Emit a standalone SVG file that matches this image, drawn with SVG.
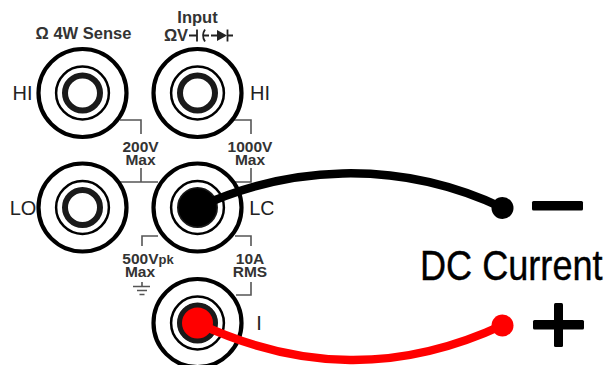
<svg xmlns="http://www.w3.org/2000/svg" width="605" height="365" viewBox="0 0 605 365">
<defs>
<clipPath id="panel"><rect x="0" y="0" width="273.500" height="365"/></clipPath>
<g id="jack"><circle r="44" class="ring" stroke-width="4.200"/><circle r="26.400" class="ring" stroke-width="2.500"/><circle r="17.500" fill="#fff" stroke="#1a1a1a" stroke-width="6"/></g>
</defs>
<style>
.ring{fill:#fff;stroke:#000}
.t{font-family:"Liberation Sans",Arial,sans-serif;font-weight:700;font-size:15.5px;fill:#333;text-anchor:middle}
.h{font-family:"Liberation Sans",Arial,sans-serif;font-size:20px;fill:#222;text-anchor:middle}
.lead{fill:none;stroke:#555;stroke-width:1.6}
.sym{fill:none;stroke:#222;stroke-width:1.8}
.wire{fill:none;stroke-width:8.500;stroke-linecap:round}
</style>
<g id="leads">
<path class="lead" d="M120 120H141V134M141 168V182M120 182H158"/>
<path class="lead" d="M233 120H251V134M251 168V182H235"/>
<path class="lead" d="M142 246V236H158M235 236H251V246M251 282V295H236"/>
<path class="lead" d="M142 282V286M133 286.500H150M137 290.500H147M139.500 294.500H144.500"/>
</g>
<g id="jack-hi-sense"><use href="#jack" x="82.500" y="93"/><text class="h" x="22.500" y="100">HI</text></g>
<g id="jack-hi-input"><use href="#jack" x="197.500" y="93"/><text class="h" x="260" y="100">HI</text></g>
<g id="jack-lo-sense"><use href="#jack" x="82.500" y="207.500"/><text class="h" x="23" y="215">LO</text></g>
<g id="jack-lo-input"><use href="#jack" x="197.500" y="207.500"/><circle cx="197.500" cy="207.500" r="19" fill="#000"/><text class="h" x="262" y="215" clip-path="url(#panel)">LC</text></g>
<g id="jack-current"><use href="#jack" x="197.500" y="323"/><circle cx="197.500" cy="323" r="20" fill="#1a1a1a"/><circle cx="197.500" cy="323" r="15.500" fill="#f00"/><text class="h" x="259" y="330">I</text></g>
<g id="labels">
<text class="t" x="83.500" y="39" style="font-size:16.500px">Ω 4W Sense</text>
<text class="t" x="197.500" y="23" style="font-size:16.500px">Input</text>
<text class="t" x="176" y="41" style="font-size:16.500px">ΩV</text>
<path class="sym" d="M189 35.500H197M197 29.500V41.500M205 29.500Q201 35.500 205 41.500M203 35.500H209M211 35.500H217M227.500 29.500V41.500M227.500 35.500H233"/>
<path d="M217 30L227 35.500L217 41Z" fill="#222"/>
<text class="t" x="140.500" y="152">200V<tspan x="140.500" dy="13">Max</tspan></text>
<text class="t" x="250" y="152" clip-path="url(#panel)">1000V<tspan x="250" dy="13">Max</tspan></text>
<text class="t" x="148" y="264">500V<tspan style="font-size:13px">pk</tspan><tspan x="140" dy="13">Max</tspan></text>
<text class="t" x="250" y="264">10A<tspan x="250" dy="13">RMS</tspan></text>
</g>
<g id="connectors">
<path class="wire" stroke="#000" d="M197.500 207.500C285 167 395 157 503 208"/>
<path class="wire" stroke="#f00" d="M197.500 323C300 371 400 373 503 325"/>
</g>
<g id="terminal-neg"><circle cx="502.500" cy="208" r="11"/><rect x="532" y="201" width="51" height="9.500" rx="1.500"/></g>
<g id="terminal-pos"><circle cx="502.500" cy="325.500" r="11" fill="#f00"/><rect x="533" y="320" width="51" height="9.500" rx="1.500"/><rect x="554" y="303" width="9" height="44" rx="1.500"/></g>
<text id="dc-label" transform="translate(420 280) scale(.86 1)" font-family="'Liberation Sans',sans-serif" font-size="42" fill="#000" stroke="#000" stroke-width=".4">DC Current</text>
</svg>
